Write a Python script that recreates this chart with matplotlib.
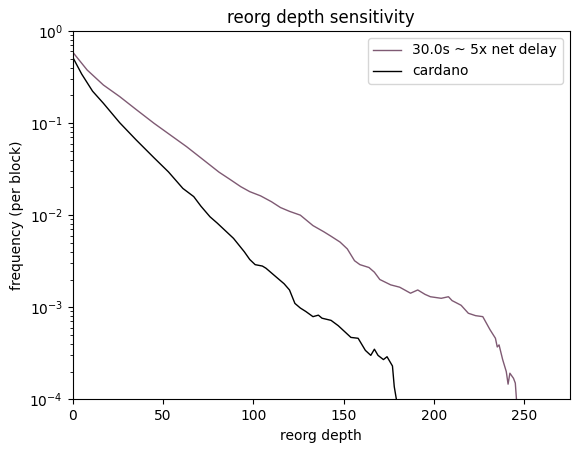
import matplotlib
matplotlib.use("Agg")
import matplotlib.pyplot as plt

purple_depth = [0, 8, 17, 26, 35, 45, 54, 63, 71, 81, 87, 93, 98, 104, 110, 115, 120, 126,
                133, 139, 143, 148, 152, 156, 159, 164, 167, 170, 176, 181, 187, 191, 195,
                198, 204, 208, 210, 215, 219, 223, 227, 231, 234, 235, 236, 238, 240, 241,
                242, 244, 245, 246]
purple_freq = [0.59, 0.377, 0.259, 0.194, 0.141, 0.0995, 0.0743, 0.0555, 0.0418, 0.0293,
               0.0245, 0.0204, 0.0180, 0.0162, 0.0140, 0.0121, 0.0110, 0.0100, 0.0077,
               0.0066, 0.0059, 0.0051, 0.0043, 0.0032, 0.0029, 0.0027, 0.0024, 0.0020,
               0.00175, 0.00165, 0.00142, 0.00154, 0.00138, 0.0013, 0.00125, 0.0013,
               0.00118, 0.00105, 0.00086, 0.00081, 0.00079, 0.00057, 0.00046, 0.00037,
               0.00039, 0.00027, 0.00020, 0.000146, 0.000192, 0.000169, 0.00015, 0.00008]

black_depth = [0, 5, 11, 17, 26, 35, 45, 53, 61, 67, 71, 76, 80, 89, 95, 98, 101, 105,
               107, 113, 117, 120, 123, 126, 129, 133, 136, 138, 143, 147, 154, 158, 162,
               165, 167, 169, 172, 174, 177, 178, 180]
black_freq = [0.52, 0.34, 0.222, 0.164, 0.101, 0.066, 0.042, 0.0295, 0.0195, 0.0159,
              0.0125, 0.0096, 0.0082, 0.0056, 0.0040, 0.0033, 0.0029, 0.0028, 0.00265,
              0.0021, 0.0018, 0.00154, 0.00110, 0.00098, 0.00090, 0.00079, 0.00082,
              0.00076, 0.00072, 0.00063, 0.00047, 0.00046, 0.00034, 0.00030, 0.00035,
              0.00030, 0.00027, 0.00029, 0.00023, 0.000137, 0.00008]

fig = plt.figure(figsize=(5.78, 4.53), dpi=100)
ax = fig.add_axes([72.7 / 578, (453 - 399.3) / 453, 496.8 / 578, 368.3 / 453])
ax.plot(purple_depth, purple_freq, color="#7f5a73", lw=1.0, label="30.0s ~ 5x net delay")
ax.plot(black_depth, black_freq, color="black", lw=1.0, label="cardano")
ax.set_yscale("log")
ax.set_xlim(0, 275)
ax.set_ylim(1e-4, 1)
ax.set_title("reorg depth sensitivity")
ax.set_xlabel("reorg depth")
ax.set_ylabel("frequency (per block)")
ax.legend(loc="upper right")
fig.savefig("out.png", dpi=100)
